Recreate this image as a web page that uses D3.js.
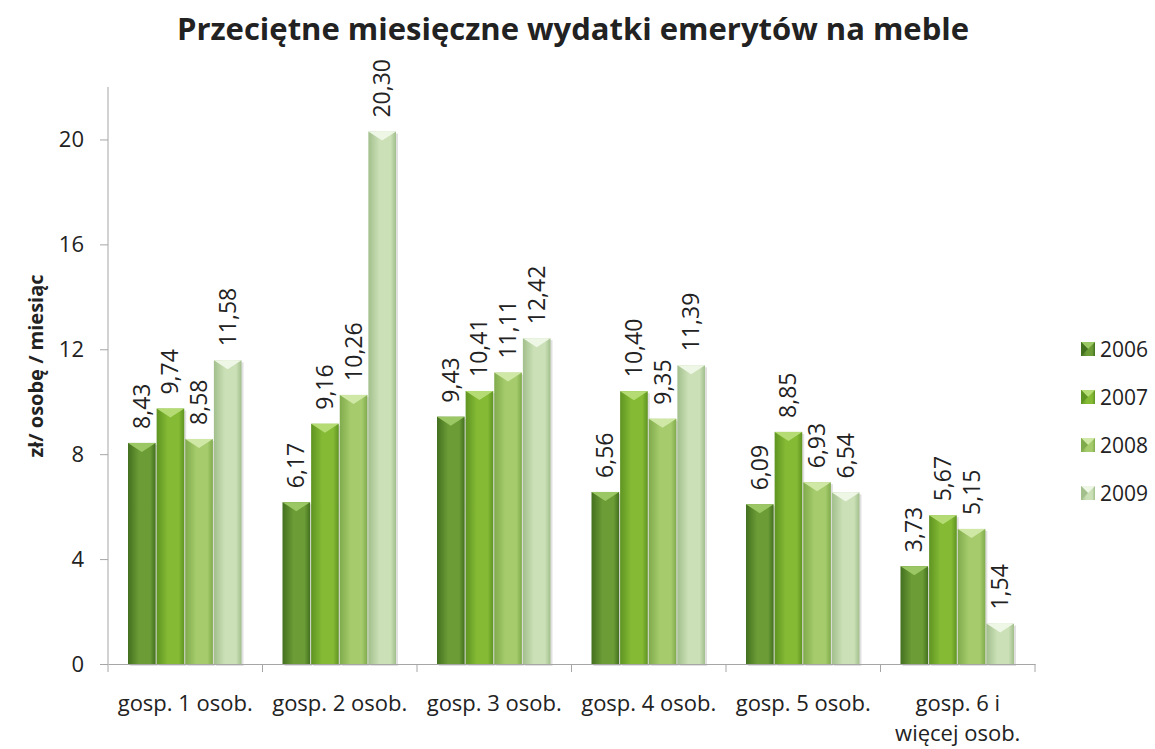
<!DOCTYPE html>
<html lang="pl">
<head>
<meta charset="UTF-8">
<title>Przeciętne miesięczne wydatki emerytów na meble</title>
<script src="https://d3js.org/d3.v7.min.js"></script>
<style>
  html, body { margin: 0; padding: 0; overflow: hidden; background: #fff; }
  body { font-family: "Open Sans", Lato, sans-serif; }
  svg { display: block; }
  .title { font-size: 31px; font-weight: bold; fill: #222; text-anchor: middle; }
  .axis path, .axis line { stroke: #a6a6a6; }
  .axis text { font-size: 22px; fill: #222; font-family: "Open Sans", sans-serif; }
  .val { font-size: 23px; fill: #222; }
  .xlab { font-size: 22px; fill: #222; text-anchor: middle; }
  .legend text { font-size: 21px; fill: #222; }
</style>
</head>
<body>
<script>
// Dane
var categories = ["gosp. 1 osob.", "gosp. 2 osob.", "gosp. 3 osob.", "gosp. 4 osob.", "gosp. 5 osob.", "gosp. 6 i|więcej osob."];
var years = ["2006", "2007", "2008", "2009"];
var v2006 = [8.43, 6.17, 9.43, 6.56, 6.09, 3.73];
var v2007 = [9.74, 9.16, 10.41, 10.40, 8.85, 5.67];
var v2008 = [8.58, 10.26, 11.11, 9.35, 6.93, 5.15];
var v2009 = [11.58, 20.30, 12.42, 11.39, 6.54, 1.54];
var yTicks = [0, 4, 8, 12, 16, 20];

var series = [v2006, v2007, v2008, v2009];
var colors = [
  { edge: "#43701f", mid: "#6b9c36", light: "#9cc765" },
  { edge: "#5f9422", mid: "#84ba34", light: "#b5dc74" },
  { edge: "#80ab4c", mid: "#a5cb6c", light: "#d0e8a6" },
  { edge: "#a2bf8c", mid: "#cbe0b7", light: "#eef6e6" }
];

var W = 1155, H = 749;

var svg = d3.select("body").append("svg")
  .attr("width", W).attr("height", H);

var defs = svg.append("defs");
colors.forEach(function (c, i) {
  var g = defs.append("linearGradient").attr("id", "grad" + i)
    .attr("x1", "0").attr("x2", "1").attr("y1", "0").attr("y2", "0");
  g.append("stop").attr("offset", "0%").attr("stop-color", c.edge);
  g.append("stop").attr("offset", "40%").attr("stop-color", c.mid);
  g.append("stop").attr("offset", "80%").attr("stop-color", c.mid);
  g.append("stop").attr("offset", "100%").attr("stop-color", c.edge);
});

var x0 = d3.scaleBand().domain(categories).range([108, 1035]);
var x1 = d3.scaleBand().domain(years).range([20, x0.bandwidth() - 20]);
var y = d3.scaleLinear().domain([0, 22]).range([664, 87]);

// Tytuł
svg.append("text").attr("class", "title")
  .attr("x", 573).attr("y", 40)
  .text("Przeciętne miesięczne wydatki emerytów na meble");

// Oś Y
var yAxis = svg.append("g").attr("class", "axis")
  .attr("transform", "translate(108,0)")
  .call(d3.axisLeft(y).tickValues(yTicks).tickSize(8).tickPadding(16));
yAxis.select(".domain").attr("d", "M0," + y(22) + "V" + y(0));

svg.append("text")
  .attr("transform", "translate(43,366) rotate(-90)")
  .attr("text-anchor", "middle")
  .attr("font-size", 20).attr("font-weight", "bold").attr("fill", "#222")
  .text("zł/ osobę / miesiąc");

// Słupki
var groups = svg.selectAll(".grp").data(categories).enter().append("g")
  .attr("class", "grp")
  .attr("transform", function (d) { return "translate(" + x0(d) + ",0)"; });

groups.each(function (cat, ci) {
  var g = d3.select(this);
  series.forEach(function (s, si) {
    var v = s[ci];
    var bx = x1(years[si]), bw = x1.bandwidth() - 1, by = y(v), bh = y(0) - y(v);
    // cień
    g.append("rect").attr("x", bx + 2).attr("y", by + 2).attr("width", bw).attr("height", bh)
      .attr("fill", "#000").attr("opacity", 0.12);
    g.append("rect").attr("x", bx).attr("y", by).attr("width", bw).attr("height", bh)
      .attr("fill", "url(#grad" + si + ")");
    // fazowanie u góry
    var bev = Math.min(9, bh);
    g.append("path")
      .attr("d", "M" + bx + "," + by + "L" + (bx + bw) + "," + by +
        "L" + (bx + bw / 2) + "," + (by + bev) + "Z")
      .attr("fill", colors[si].light);
    // etykieta
    g.append("text").attr("class", "val")
      .attr("transform", "translate(" + (bx + bw / 2 + 8) + "," + (by - 14) + ") rotate(-90)")
      .text(d3.format(".2f")(v).replace(".", ","));
  });
});

// Oś X
var xAxis = svg.append("g").attr("class", "axis")
  .attr("transform", "translate(0,664)")
  .call(d3.axisBottom(x0).tickSize(0).tickFormat(""));
xAxis.selectAll(".tick").remove();
var tickPos = categories.map(function (c) { return x0(c); }).concat([x0.range()[1]]);
xAxis.selectAll(".sep").data(tickPos).enter().append("line")
  .attr("x1", function (d) { return d; }).attr("x2", function (d) { return d; })
  .attr("y1", 0).attr("y2", 8).attr("stroke", "#a6a6a6");

svg.selectAll(".xlab").data(categories).enter().append("text")
  .attr("class", "xlab")
  .attr("y", 711)
  .each(function (d) {
    var cx = x0(d) + x0.bandwidth() / 2;
    var t = d3.select(this);
    d.split("|").forEach(function (p, i) {
      t.append("tspan").attr("x", cx).attr("dy", i ? 30 : 0).text(p);
    });
  });

// Legenda
var leg = svg.append("g").attr("class", "legend");
years.forEach(function (yr, i) {
  var ly = 349 + i * 48;
  leg.append("rect").attr("x", 1081).attr("y", ly - 7).attr("width", 14).attr("height", 14)
    .attr("fill", "url(#grad" + i + ")");
  leg.append("path")
    .attr("d", "M1081," + (ly - 7) + "L1095," + (ly - 7) + "L1088," + ly + "Z")
    .attr("fill", colors[i].light);
  leg.append("path")
    .attr("d", "M1081," + (ly - 7) + "L1088," + ly + "L1081," + (ly + 7) + "Z")
    .attr("fill", colors[i].edge);
  leg.append("text").attr("x", 1100).attr("y", ly + 8).text(yr);
});
</script>
</body>
</html>
